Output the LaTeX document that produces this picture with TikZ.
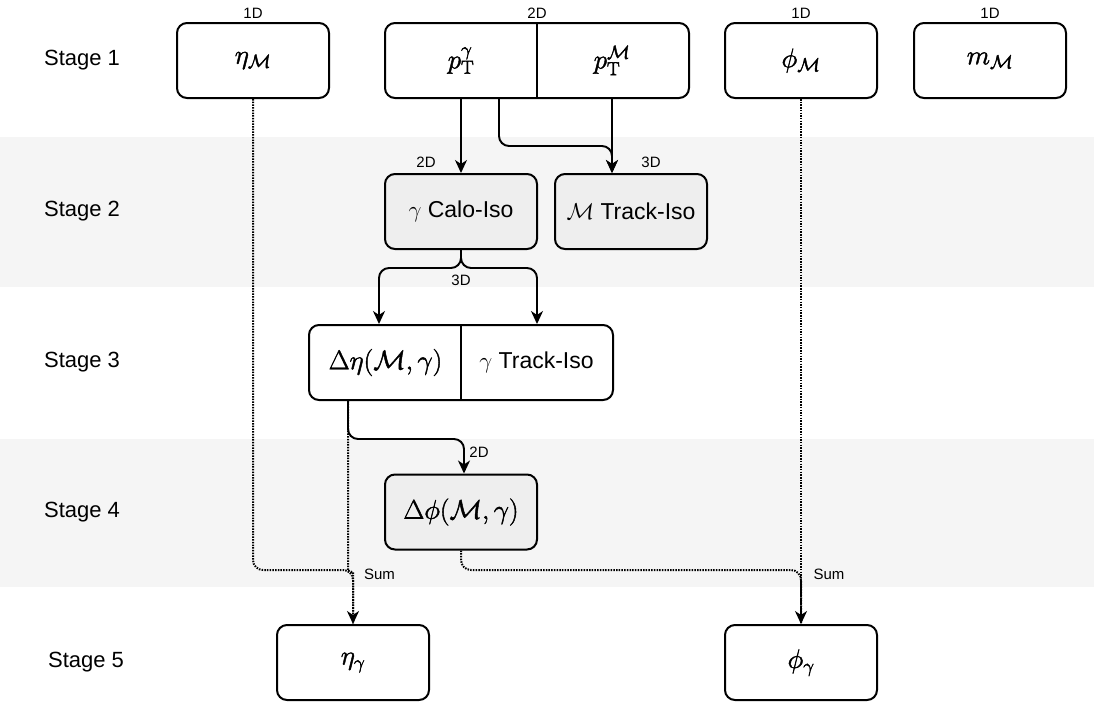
\RequirePackage{fix-cm}
\documentclass[tikz,border=0pt]{standalone}
\usepackage[no-math]{fontspec}
\setmainfont{Liberation Sans}
\usetikzlibrary{arrows.meta,calc}
\definecolor{bandgray}{HTML}{F5F5F5}
\definecolor{boxgray}{HTML}{EEEEEE}
\newcommand\hv[1]{\special{pdf:literal direct 2 Tr 0.45 w}#1\special{pdf:literal direct 0 Tr}}
\tikzset{
  box/.style={draw, line width=2pt, rounded corners=10pt, minimum width=152pt,
    minimum height=75pt, inner sep=0pt, fill=white, font=\fontsize{27}{31}\selectfont},
  graybox/.style={box, fill=boxgray},
  widebox/.style={box, minimum width=304pt},
  inlbl/.style={inner sep=0pt, font=\fontsize{27}{31}\selectfont},
  inlbltxt/.style={inner sep=0pt, font=\fontsize{23}{27}\selectfont},
  stagelbl/.style={inner sep=0pt, font=\fontsize{22}{26}\selectfont},
  dimlbl/.style={inner sep=0pt, font=\fontsize{15}{18}\selectfont},
  tipstyle/.style={-{Stealth[length=13pt,width=12pt,inset=4pt]}},
  arr/.style={line width=1.9pt, rounded corners=10pt, tipstyle},
  dotln/.style={line width=2pt, dash pattern=on 1.5pt off 1.2pt, rounded corners=10pt},
}
\begin{document}
\begin{tikzpicture}[x=1pt,y=-1pt]
\useasboundingbox (0,0) rectangle (1094,702);
\fill[bandgray] (0,137) rectangle (1094,287);
\fill[bandgray] (0,439) rectangle (1094,587);

% stage labels
\node[stagelbl] (st1) at (82,60.5) {Stage 1};
\node[stagelbl] (st2) at (82,211.5) {Stage 2};
\node[stagelbl] (st3) at (82,362) {Stage 3};
\node[stagelbl] (st4) at (82,512.5) {Stage 4};
\node[stagelbl] (st5) at (86,662.5) {Stage 5};

% stage 1
\node[box] (etaM) at (253,60.5) {\hv{$\eta_{\mathcal{M}}$}};
\node[widebox] (pt) at (537,60.5) {};
\draw[line width=2pt] (pt.north) -- (pt.south);
\node[inlbl] (ptg) at (461,60.5) {\hv{$p_{\mathrm{T}}^{\gamma}$}};
\node[inlbl] (ptm) at (612,60.5) {\hv{$p_{\mathrm{T}}^{\mathcal{M}}$}};
\node[box] (phiM) at (801,60.5) {\hv{$\phi_{\mathcal{M}}$}};
\node[box] (mM) at (990,60.5) {\hv{$m_{\mathcal{M}}$}};
\node[dimlbl] (l1) at (253,13) {1D};
\node[dimlbl] (l2) at (537,13) {2D};
\node[dimlbl] (l3) at (801,13) {1D};
\node[dimlbl] (l4) at (990,13) {1D};

% stage 2
\node[graybox, font=\fontsize{23}{27}\selectfont] (calo) at (461,211.5) {$\gamma$ Calo-Iso};
\node[graybox, font=\fontsize{23}{27}\selectfont] (mtrk) at (631,211.5) {$\mathcal{M}$ Track-Iso};

% stage 3
\node[widebox] (s3) at (461,362.5) {};
\draw[line width=2pt] (s3.north) -- (s3.south);
\node[inlbl] (deta) at (385.5,362.5) {\hv{$\Delta\eta(\mathcal{M},\gamma)$}};
\node[inlbltxt] (gtrk) at (536.5,362.5) {$\gamma$ Track-Iso};

% stage 4
\node[graybox] (dphi) at (461,512) {\hv{$\Delta\phi(\mathcal{M},\gamma)$}};

% stage 5
\node[box] (etag) at (353,662.5) {\hv{$\eta_{\gamma}$}};
\node[box] (phig) at (801,662.5) {\hv{$\phi_{\gamma}$}};

% solid connectors
\draw[arr] (ptg |- pt.south) -- (ptg |- calo.north);
\draw[arr] ($(pt.south)+(-38,0)$) -- ++(0,47) -| (ptm |- mtrk.north);
\draw[arr] (ptm |- pt.south) -- (ptm |- mtrk.north);
\node[dimlbl] (c1) at (426,162) {2D};
\node[dimlbl] (c2) at (651,162) {3D};

\draw[arr] (calo.south) -- ++(0,18) -| ($(s3.north)+(-82,0)$);
\draw[arr] (calo.south) -- ++(0,18) -| ($(s3.north)+(76,0)$);
\node[dimlbl] (c3) at (461,280) {3D};

\coordinate (dEta) at ($(s3.south)+(-113,0)$);
\draw[arr] (dEta) -- ++(0,38) -| ($(dphi.north)+(3,0)$);
\node[dimlbl] (c4) at (479,452) {2D};

% dotted connectors
\coordinate (mergeL) at ($(etag.north)+(0,-42)$);
\draw[dotln] (dEta) -- ($(dEta)+(0,160)$) .. controls +(0,9) and +(0,-9) .. (mergeL) -- (etag.north);
\draw[dotln, tipstyle] (etaM.south) |- ($(etag.north)+(0,-54)$) -- (etag.north);
\draw[dotln, tipstyle] (phiM.south) -- (phig.north);
\draw[dotln] (dphi.south) |- ($(phig.north)+(0,-54)$) -- (phig.north);
\node[dimlbl] (sum1) at (379.5,574) {Sum};
\node[dimlbl] (sum2) at (829,574) {Sum};
\end{tikzpicture}
\end{document}
